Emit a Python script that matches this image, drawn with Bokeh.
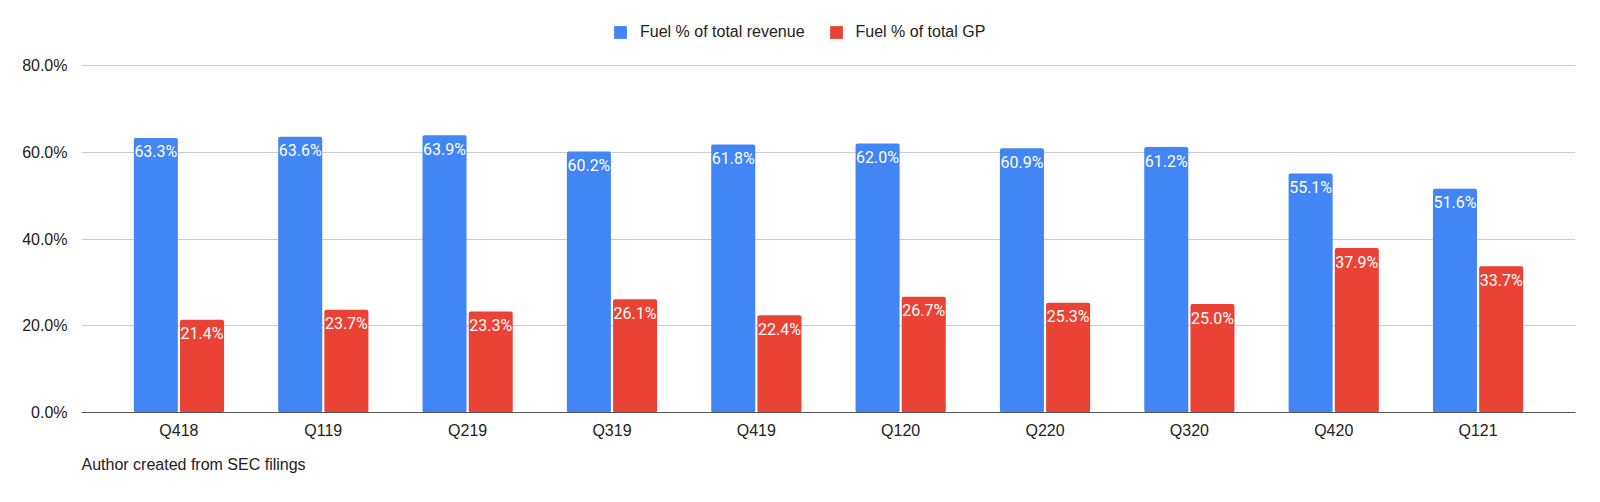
from bokeh.plotting import figure
from bokeh.models import (ColumnDataSource, FixedTicker, PrintfTickFormatter,
                          Legend, LegendItem, Title, Range1d)
from bokeh.core.properties import value
from bokeh.embed import file_html
from bokeh.resources import INLINE

quarters = ["Q418", "Q119", "Q219", "Q319", "Q419", "Q120", "Q220", "Q320", "Q420", "Q121"]
fuel_revenue = [63.3, 63.6, 63.9, 60.2, 61.8, 62.0, 60.9, 61.2, 55.1, 51.6]
fuel_gp = [21.4, 23.7, 23.3, 26.1, 22.4, 26.7, 25.3, 25.0, 37.9, 33.7]
y_ticks = [0, 20, 40, 60, 80]

BLUE = "#4285F4"
RED = "#EA4335"
FONT = "Liberation Sans"

idx = list(range(len(quarters)))
src = ColumnDataSource(data=dict(
    x_rev=[i - 0.16 for i in idx],
    x_gp=[i + 0.16 for i in idx],
    rev=fuel_revenue,
    gp=fuel_gp,
    rev_lbl=[f"{v:.1f}%" for v in fuel_revenue],
    gp_lbl=[f"{v:.1f}%" for v in fuel_gp],
))

# quadro vai de y=15 a y=412; 80% fica em y=65 -> topo do range acima de 80
y_top = 80 + 50 / (347 / 80)

p = figure(width=1600, height=500, output_backend="svg", toolbar_location=None,
           x_range=Range1d(-0.675, len(quarters) - 0.325), y_range=Range1d(0, y_top),
           min_border_left=81, min_border_right=25, min_border_top=15, min_border_bottom=88)
p.outline_line_color = None
p.background_fill_color = "white"
p.border_fill_color = "white"

r_rev = p.vbar(x="x_rev", top="rev", width=0.305, source=src, fill_color=BLUE,
               line_color=None, border_radius=2)
r_gp = p.vbar(x="x_gp", top="gp", width=0.305, source=src, fill_color=RED,
              line_color=None, border_radius=2)

# etiquetas de valor dentro das barras
for xc, yc, tc in (("x_rev", "rev", "rev_lbl"), ("x_gp", "gp", "gp_lbl")):
    p.text(x=xc, y=yc, text=tc, source=src, y_offset=14, text_color="white",
           text_align="center", text_baseline="middle",
           text_font=value("Roboto"), text_font_size="16px")

# eixos
p.xaxis.ticker = FixedTicker(ticks=idx)
p.xaxis.major_label_overrides = {i: q for i, q in enumerate(quarters)}
p.xaxis.major_tick_line_color = None
p.xaxis.minor_tick_line_color = None
p.xaxis.axis_line_color = "#555555"
p.xaxis.axis_line_width = 1.2
p.xaxis.major_label_standoff = 3
p.xaxis.major_label_text_font = FONT
p.xaxis.major_label_text_font_size = "16px"
p.xaxis.major_label_text_color = "#222222"

p.yaxis.ticker = FixedTicker(ticks=y_ticks)
p.yaxis.formatter = PrintfTickFormatter(format="%.1f%%")
p.yaxis.axis_line_color = None
p.yaxis.major_tick_line_color = None
p.yaxis.minor_tick_line_color = None
p.yaxis.major_label_standoff = 8
p.yaxis.major_label_text_font = FONT
p.yaxis.major_label_text_font_size = "16px"
p.yaxis.major_label_text_color = "#222222"

p.xgrid.grid_line_color = None
p.ygrid.grid_line_color = "#cccccc"
p.ygrid.grid_line_width = 1

legend = Legend(items=[LegendItem(label="Fuel % of total revenue", renderers=[r_rev]),
                       LegendItem(label="Fuel % of total GP", renderers=[r_gp])],
                location=(531, 371), orientation="horizontal",
                glyph_width=16, glyph_height=16, label_height=16, label_standoff=12,
                spacing=23, padding=0, margin=0,
                border_line_color=None, background_fill_alpha=0,
                label_text_font=FONT, label_text_font_size="16px", label_text_color="#222222")
p.add_layout(legend, "center")

p.add_layout(Title(text="Author created from SEC filings", align="left", standoff=25,
                   text_font=FONT, text_font_size="16px", text_font_style="normal",
                   text_color="#222222"), "below")

open("out.html", "w").write(file_html(p, INLINE))
